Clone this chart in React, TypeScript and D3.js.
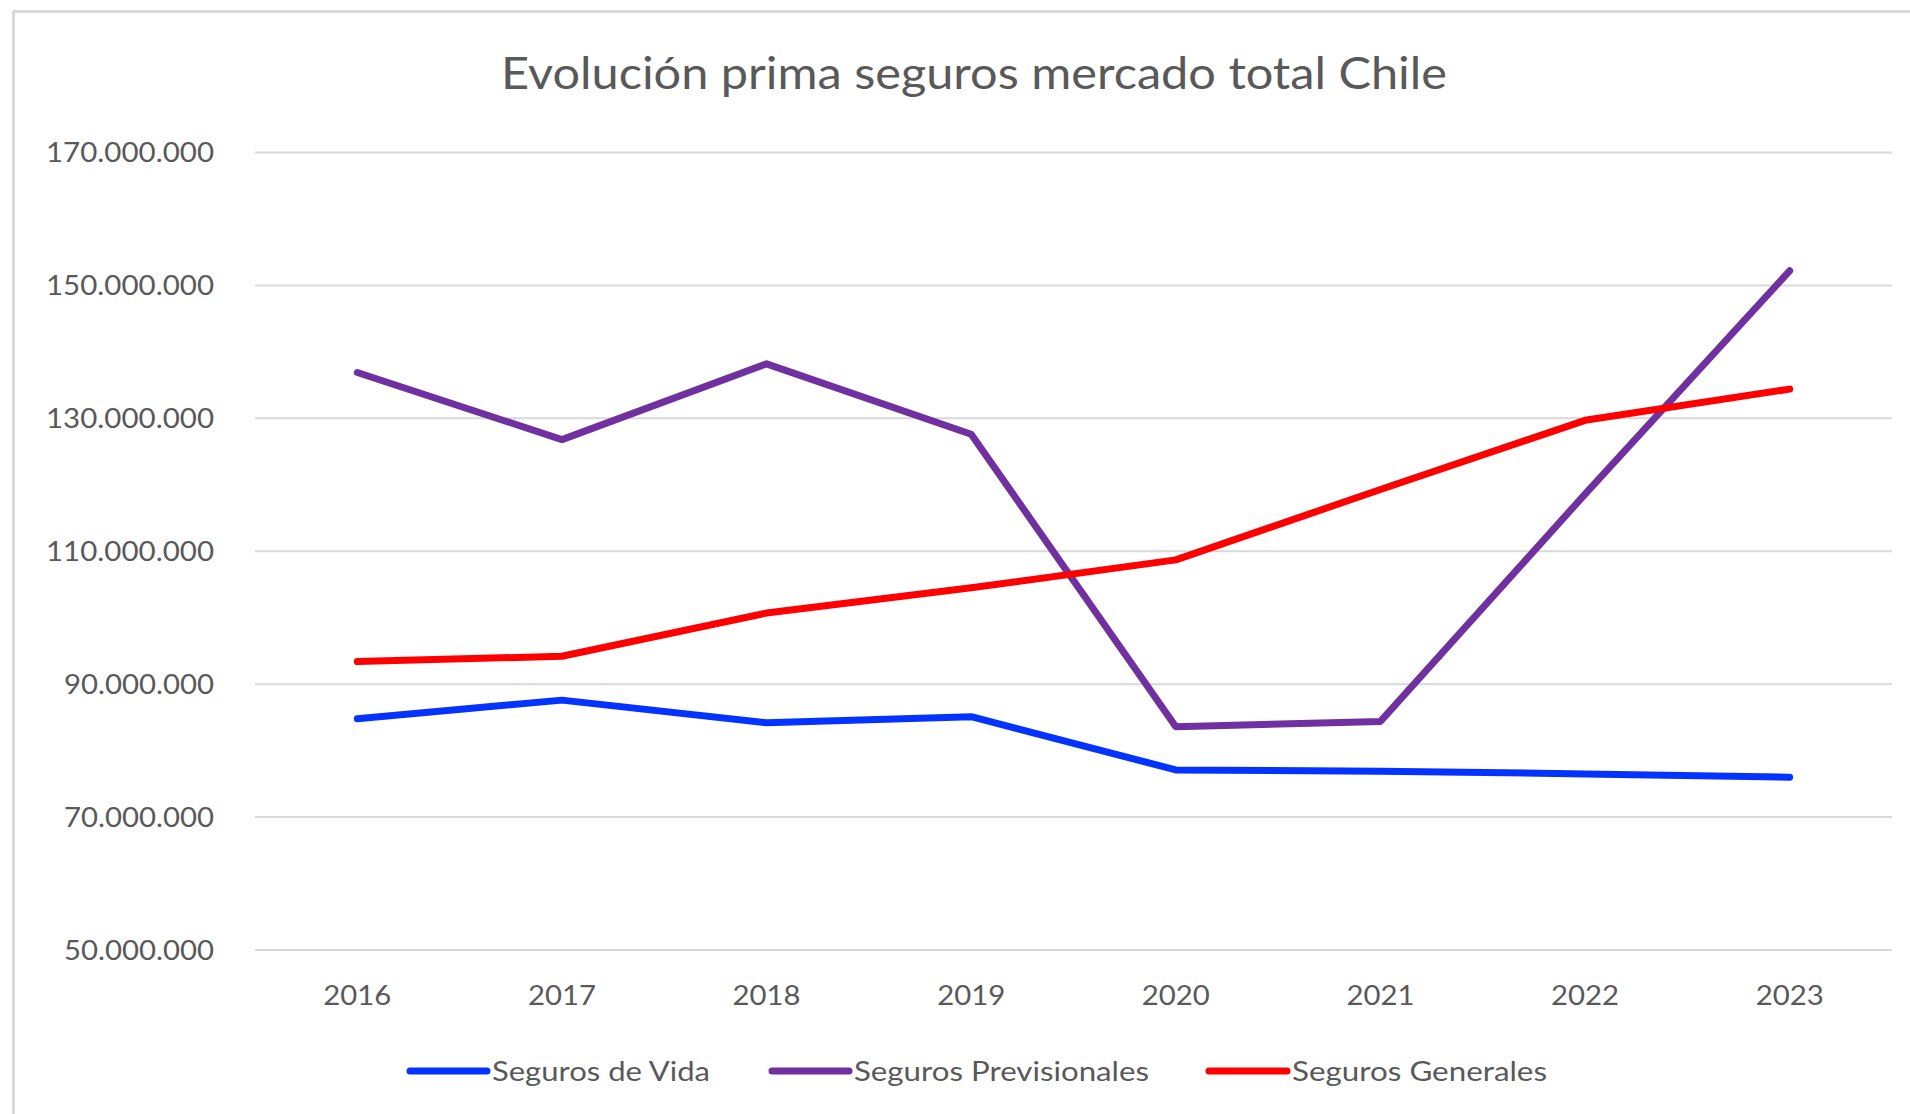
import React from "react";
import * as d3 from "d3";

const years = ["2016", "2017", "2018", "2019", "2020", "2021", "2022", "2023"];
const segurosVida = [84.8e6, 87.6e6, 84.2e6, 85.1e6, 77.1e6, 76.9e6, 76.5e6, 76.0e6];
const segurosPrevisionales = [136.9e6, 126.8e6, 138.2e6, 127.6e6, 83.6e6, 84.4e6, 118.6e6, 152.2e6];
const segurosGenerales = [93.4e6, 94.2e6, 100.7e6, 104.5e6, 108.7e6, 119.3e6, 129.7e6, 134.4e6];
const yTicks = [50e6, 70e6, 90e6, 110e6, 130e6, 150e6, 170e6];
const seriesNames = ["Seguros de Vida", "Seguros Previsionales", "Seguros Generales"];
const seriesColors = ["#0433FF", "#7030A0", "#FF0000"];
const title = "Evolución prima seguros mercado total Chile";

const FONT = "Lato, 'Open Sans', sans-serif";
const TEXT = "#595959";

const fmt = (v: number) => d3.format(",")(v).replace(/,/g, ".");

export default function App() {
  const W = 1910, H = 1114;
  const x = d3.scaleBand<string>().domain(years).range([255, 1892]);
  const y = d3.scaleLinear().domain([50e6, 170e6]).range([950, 152.5]);
  const cx = (d: string) => (x(d) as number) + x.bandwidth() / 2;
  const line = d3
    .line<number>()
    .x((_, i) => cx(years[i]))
    .y((v) => y(v));
  const series = [segurosVida, segurosPrevisionales, segurosGenerales];
  const legendLine = [[410, 487], [772, 849], [1209, 1287]];
  const legendText = [[492, 218], [854, 295], [1292, 255]];
  const legendY = 1071;

  return (
    <svg
      width={W}
      height={H}
      style={{ position: "absolute", left: 0, top: 0, background: "#fff" }}
      fontFamily={FONT}
    >
      <rect x={0} y={0} width={W} height={H} fill="#fff" />
      <path d={`M13.5,${H} L13.5,11.5 L${W},11.5`} fill="none" stroke="#d9d9d9" strokeWidth={3} />
      <text
        x={974}
        y={89}
        textAnchor="middle"
        fontSize={44}
        fill={TEXT}
        textLength={946}
        lengthAdjust="spacingAndGlyphs"
      >
        {title}
      </text>
      {yTicks.map((t) => (
        <g key={t}>
          <line x1={255} x2={1892} y1={y(t)} y2={y(t)} stroke="#d9d9d9" strokeWidth={2} />
          <text
            x={214}
            y={y(t)}
            dy="0.36em"
            textAnchor="end"
            fontSize={27}
            fill={TEXT}
            textLength={t >= 100e6 ? 168 : 150}
            lengthAdjust="spacingAndGlyphs"
          >
            {fmt(t)}
          </text>
        </g>
      ))}
      {years.map((yr) => (
        <text
          key={yr}
          x={cx(yr)}
          y={995}
          dy="0.36em"
          textAnchor="middle"
          fontSize={27}
          fill={TEXT}
          textLength={68}
          lengthAdjust="spacingAndGlyphs"
        >
          {yr}
        </text>
      ))}
      {series.map((s, i) => (
        <path
          key={i}
          d={line(s) as string}
          fill="none"
          stroke={seriesColors[i]}
          strokeWidth={7}
          strokeLinecap="round"
          strokeLinejoin="round"
        />
      ))}
      {seriesNames.map((n, i) => (
        <g key={n}>
          <line
            x1={legendLine[i][0]}
            x2={legendLine[i][1]}
            y1={legendY}
            y2={legendY}
            stroke={seriesColors[i]}
            strokeWidth={7}
            strokeLinecap="round"
          />
          <text
            x={legendText[i][0]}
            y={legendY}
            dy="0.36em"
            fontSize={27}
            fill={TEXT}
            textLength={legendText[i][1]}
            lengthAdjust="spacingAndGlyphs"
          >
            {n}
          </text>
        </g>
      ))}
    </svg>
  );
}
